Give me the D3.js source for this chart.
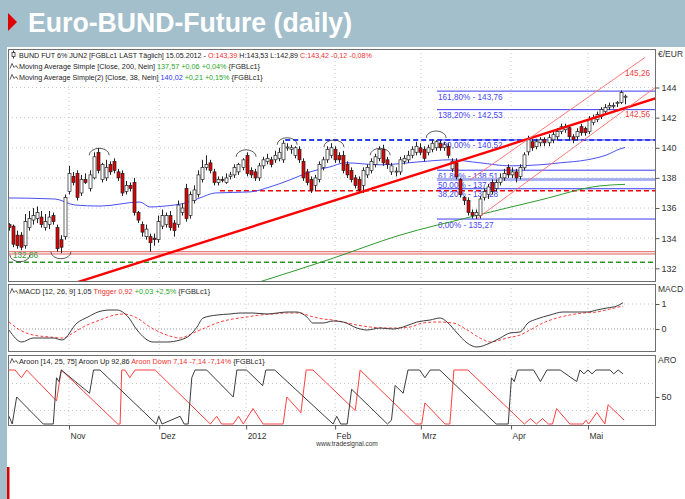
<!DOCTYPE html>
<html>
<head>
<meta charset="utf-8">
<script src="https://cdn.jsdelivr.net/npm/d3@7"></script>
<style>
  body { margin: 0; background: #fff; }
  svg text { font-family: "Liberation Sans", Arial, sans-serif; }
</style>
</head>
<body>
<svg id="chart" width="685" height="499"></svg>
<script>
// ---- data ----
const openP = [134.9,134.8,134.2,134.2,133.5,134.7,135.2,135.3,135.4,134.7,
  134.9,135.5,134.7,133.9,134.1,137.1,138.1,138.3,137.0,137.9,
  137.3,138.0,139.7,137.9,138.0,138.9,139.1,138.4,138.3,137.1,
  137.5,137.7,135.7,134.9,134.1,134.1,134.0,133.9,134.8,134.9,
  135.5,135.0,134.9,135.7,137.3,135.5,136.5,136.9,137.9,138.7,
  139.0,138.4,137.7,137.9,137.7,138.1,138.2,138.4,138.7,139.5,
  138.5,138.4,138.0,138.8,139.1,139.2,139.2,139.3,139.2,140.0,
  139.9,139.5,139.9,139.1,138.4,137.9,137.5,137.9,138.7,139.2,
  139.5,139.9,139.5,139.5,138.9,138.5,138.0,137.9,137.5,138.2,
  138.5,138.9,139.3,139.9,139.2,138.4,138.4,138.4,139.1,139.2,
  139.5,139.7,140.0,139.9,139.7,139.9,140.0,140.3,140.0,140.1,
  138.6,139.0,137.9,136.7,136.5,135.7,135.5,135.5,136.7,136.9,
  137.7,137.3,137.7,138.0,138.7,138.2,138.4,138.1,138.67,139.73,
  140.4,140.07,140.33,140.53,140.33,140.53,140.73,141.07,141.2,141.33,
  140.73,140.73,141.4,141.27,141.07,141.67,141.87,142.07,142.4,142.7,
  142.8,142.93,143.0,143.39];
const highP = [135.0,134.9,134.5,134.4,135.6,135.8,136.0,136.1,135.8,135.6,
  135.8,135.7,134.9,134.2,136.9,138.8,138.4,138.5,138.2,138.3,
  138.5,139.7,140.0,139.0,139.2,139.1,139.3,138.6,138.5,137.8,
  137.7,138.0,135.8,135.1,134.9,134.3,134.3,135.5,135.9,135.7,
  135.8,135.2,136.5,136.3,137.6,137.1,137.5,138.5,139.2,139.5,
  139.2,138.6,138.1,138.1,138.3,138.4,138.9,139.0,139.3,139.7,
  138.7,138.6,139.0,139.4,139.6,139.4,139.8,140.0,140.5,140.3,
  140.2,140.1,140.1,139.3,138.6,138.1,138.2,139.1,139.4,140.1,
  140.3,140.1,139.7,139.8,139.1,138.7,138.2,138.1,138.7,138.9,
  139.3,139.6,140.1,140.2,139.4,139.0,138.7,139.4,139.5,139.8,
  140.1,140.4,140.3,140.1,140.2,140.52,140.5,140.5,140.4,140.3,
  139.3,139.3,138.0,136.8,136.7,135.9,135.9,136.8,137.3,137.6,
  137.9,137.9,138.3,138.6,138.9,138.7,138.6,138.9,139.7,140.8,
  140.6,140.6,140.7,140.7,140.9,141.1,141.3,141.6,141.6,141.5,
  140.9,141.3,141.6,141.4,142.1,142.2,142.4,142.7,142.9,143.0,
  143.0,143.1,143.8,143.53];
const lowP = [134.5,133.4,133.3,133.2,133.3,134.5,134.9,135.0,134.7,134.5,
  134.6,134.9,133.1,133.0,133.9,136.9,137.5,136.5,136.8,137.6,
  137.1,137.9,138.3,137.7,137.8,138.2,138.3,137.8,136.8,136.9,
  137.1,135.5,135.0,134.1,133.9,133.1,133.5,133.7,134.6,134.7,
  134.5,134.1,134.7,135.5,135.1,135.3,136.3,136.7,137.7,138.5,
  138.3,137.5,137.5,137.7,137.6,137.9,138.0,138.2,138.5,138.1,
  138.0,137.8,137.8,138.6,138.9,138.7,139.0,139.1,139.0,139.8,
  139.6,139.3,139.0,137.8,137.5,137.0,137.1,137.7,138.5,139.0,
  139.3,139.0,139.0,138.3,138.0,137.7,137.3,137.0,137.0,138.0,
  138.3,138.7,139.1,138.8,138.6,138.2,138.1,138.2,138.9,139.0,
  139.3,139.5,139.5,139.1,139.5,139.7,139.8,139.8,139.8,139.3,
  138.4,137.9,136.7,136.2,135.5,135.3,135.27,135.3,136.5,136.6,
  136.9,137.1,137.5,137.8,138.0,138.0,137.7,137.9,138.5,139.5,
  139.8,139.9,140.1,140.1,140.1,140.3,140.5,140.9,141.0,140.5,
  140.3,140.5,140.8,140.8,140.9,141.5,141.7,141.9,142.2,142.5,
  142.6,142.7,142.9,142.89];
const closeP = [134.7,133.6,133.5,133.4,135.1,135.3,135.5,135.7,134.9,135.1,
  135.4,135.1,133.3,133.4,136.7,138.3,137.7,136.7,137.9,137.7,
  138.2,139.4,138.5,138.9,138.7,138.4,138.5,138.0,137.0,137.5,
  137.3,135.7,135.2,134.4,134.6,133.7,133.9,135.1,135.5,135.5,
  134.7,134.5,136.2,136.0,135.3,136.9,137.2,138.2,138.7,138.9,
  138.5,137.7,137.9,137.85,138.0,138.2,138.7,138.9,139.2,138.3,
  138.2,138.0,138.8,139.2,139.3,138.9,139.5,139.7,140.3,140.05,
  140.0,140.0,139.2,138.0,137.7,137.2,138.0,138.9,139.2,139.9,
  140.0,139.2,139.2,138.5,138.2,137.9,137.5,137.2,138.5,138.7,
  139.1,139.4,139.9,139.0,138.9,138.8,138.45,139.2,139.3,139.5,
  139.9,140.1,139.7,139.3,140.0,140.3,140.4,140.0,140.2,139.5,
  139.1,138.07,136.9,136.5,135.7,135.5,135.7,136.6,137.1,137.4,
  137.1,137.7,138.0,138.3,138.2,138.4,138.0,138.7,139.53,140.53,
  140.0,140.4,140.53,140.33,140.67,140.87,141.07,141.4,141.4,140.73,
  140.53,141.07,141.0,141.0,141.87,142.0,142.2,142.53,142.67,142.8,
  142.8,143.0,143.67,143.42];

// moving averages, sampled as [day index, value]
const ma38 = [[0,136.67],[11.4,136.6],[16.4,136.2],[22.6,136.13],[32.5,136.4],[35,136.07],
  [38.7,136.13],[43.7,136.33],[47.4,136.67],[51.2,137.0],[59.9,137.07],[64.8,137.4],
  [69.8,137.87],[74.8,138.4],[79.7,138.73],[83.5,139.0],[92.2,138.87],[102.1,139.07],
  [109.5,139.2],[117,139.0],[124.4,138.8],[131.9,138.87],[136.9,139.0],[143.6,139.2],
  [148.5,139.53],[151.8,139.93],[153,140.02]];
const ma200 = [[59.9,130.9],[79.7,132.6],[97.1,134.2],[114.5,135.4],[131.9,136.53],
  [146.8,137.47],[153,137.57]];

// drawing tools: trend lines as [day index, price]
const trendMain = [[16.9,131.07],[160.5,143.27]];
const channelUp = [[114.5,137.87],[158,146.0]];
const channelLow = [[116.2,135.3],[160.5,144.0]];

const fibStart = 106.3;
const fibLevels = [143.76,142.53,140.52,138.51,137.895,137.28,135.27];
const fibLabels = ['161,80% - 143,76','138,20% - 142,53','100,00% - 140,52',
  '61,80% - 138,51','50,00% - 137,90','38,20% - 137,28','0,00% - 135,27'];
const blueDash = {from: 68.6, level: 140.52};
const redDash = {from: 52.4, level: 137.15};
const redPair = [133.1, 132.95];
const greenDash = 132.4;

const arcTops = [[22.4,139.5],[58.9,139.4],[69.1,140.2],[80.7,140.05],[92.2,139.5],[106.1,140.65]];
const arcBottoms = [[2.7,132.9],[12.9,133.1]];

// MACD panel
const macdLine = [[0,-0.04],[3.2,-0.52],[6,-0.36],[11,-0.36],[13.2,-0.44],[16.9,0.24],[19.6,0.48],
  [22.1,0.68],[25.1,0.76],[26.8,0.76],[29.6,0.48],[31.8,-0.04],[35.8,-0.52],[39.2,-0.52],
  [42.5,-0.44],[45,-0.24],[46.7,0.08],[48.2,0.44],[51.7,0.56],[54.9,0.6],[57.4,0.64],
  [60.6,0.64],[64.1,0.6],[66.6,0.64],[69,0.68],[71.5,0.68],[74,0.48],[75.5,0.24],[78,0.24],
  [80.5,0.32],[83,0.28],[86.4,0.04],[88.9,-0.04],[92.2,0.04],[95.4,0],[97.9,0.08],
  [101.3,0.28],[104.6,0.36],[107.1,0.44],[108.8,0.28],[111.3,-0.16],[113.8,-0.56],
  [116.2,-0.72],[119.5,-0.56],[122,-0.36],[124.4,-0.16],[126.9,-0.12],[128.9,0.24],
  [131.1,0.4],[134.4,0.56],[137.6,0.68],[141.1,0.68],[143.6,0.68],[146,0.76],[148.5,0.84],
  [151,0.92],[152.5,1.05]];
const triggerLine = [[0,0.28],[2.7,-0.04],[6,-0.24],[10.2,-0.32],[13.4,-0.36],[15.9,-0.16],
  [18.4,0.08],[22.6,0.36],[26.3,0.56],[28.3,0.6],[31.8,0.44],[35,0.08],[39.2,-0.24],
  [42.5,-0.36],[45.7,-0.16],[49.2,0.08],[52.4,0.28],[55.6,0.4],[59.1,0.48],[62.3,0.56],
  [65.6,0.6],[69,0.64],[72.3,0.64],[74.8,0.52],[78,0.4],[80.5,0.36],[83,0.28],[86.4,0.16],
  [89.7,0.08],[92.9,0.04],[96.4,0.04],[99.6,0.08],[102.8,0.24],[106.3,0.28],[110.3,0.24],
  [113.8,-0.04],[117,-0.36],[119.5,-0.52],[123.7,-0.36],[126.9,-0.24],[129.4,-0.04],
  [132.6,0.24],[136.1,0.44],[139.3,0.56],[142.6,0.64],[146,0.68],[149.3,0.8],[152.5,0.92]];

// Aroon panel, vertices as [day index, value]
const aroonUp = [[0,14.3],[0.8,0],[1.9,50],[8.5,0],[11,0],[11.8,85.7],[12.4,78.6],[13,100],
  [20,57],[21,100],[22.6,100],[36.6,0],[37.2,14.3],[38,0],[42.5,14.3],[43.5,0],[44.5,0],
  [45.4,85.7],[46.2,100],[49.1,100],[55.7,50],[56.6,100],[59,100],[63,71],[63.8,100],
  [66,100],[80.5,0],[81.4,14.3],[82.4,0],[84,0],[85.1,64.3],[94,0],[95,7],[95.9,71.4],
  [97.9,57],[99.1,100],[102,100],[103.3,85.7],[104.6,100],[107,100],[121,0],[124,0],
  [124.8,85.7],[125.5,78.6],[126.3,100],[130.3,100],[132,78.6],[133.6,100],[136.9,100],
  [141,78.6],[141.8,100],[142.8,92.9],[143.8,100],[144.8,92.9],[145.8,100],[149.3,100],
  [150.2,92.9],[151.3,100],[152.5,92.9]];
const aroonDown = [[0,100],[1.5,100],[3.1,85.7],[4.4,100],[11.8,42.9],[13,100],[27,0],
  [27.6,0],[28,100],[28.8,100],[30,85.7],[31.3,100],[36.3,100],[50,0],[51.6,14.3],[52.8,0],
  [55.7,0],[57,14.3],[58.2,0],[60.6,28.6],[63.1,0],[68.1,0],[69,50],[72.5,21],[73.8,100],
  [75.5,100],[86,25],[87.2,100],[101,0],[102.5,0],[103.3,39],[108.3,0],[109.5,0],
  [110.5,100],[114,100],[128,0],[129.5,10],[131,0],[132.5,10],[134,0],[135,0],[136,28.6],
  [139.3,0],[142.6,0],[143.3,7.1],[144,0],[146,21.4],[148,0],[148.8,35.7],[152.8,7.1]];

const priceTicks = [132,134,136,138,140,142,144];
const macdTicks = [0,1];
const aroonTicks = [50];
const aroonGrid = [25,75];
const monthLabels = ['Nov','Dez','2012','Feb','Mrz','Apr','Mai'];
const monthIdx = [14.9,37.3,58.9,81.0,102.3,124.7,143.8];

// ---- layout ----
const PLOT = { left: 8, right: 655 };
const MAIN = { top: 49, bottom: 281 };
const MACD_P = { top: 284, bottom: 351 };
const ARO_P = { top: 355, bottom: 425 };
const HEADER_BG = '#a4bfcc';
const N = closeP.length;

const svg = d3.select('#chart');
const defs = svg.append('defs');

const x = d3.scaleLinear().domain([0, N - 1]).range([9, 625]);
const yPrice = d3.scaleLinear().domain([132, 144]).range([268.3, 87.5]);
const yMacd = d3.scaleLinear().domain([0, 1]).range([329, 304]);
const yAro = d3.scaleLinear().domain([0, 100]).range([424, 370]);

// header
svg.append('rect').attr('x', 0).attr('y', 0).attr('width', 685).attr('height', 47).attr('fill', HEADER_BG);
svg.append('rect').attr('x', 0).attr('y', 0).attr('width', 7).attr('height', 499).attr('fill', HEADER_BG);
svg.append('rect').attr('x', 7).attr('y', 467).attr('width', 2.5).attr('height', 32).attr('fill', '#e00000');
svg.append('path').attr('d', 'M8,13 L17,22 L8,31 Z').attr('fill', '#e00000');
svg.append('text')
  .attr('x', 28).attr('y', 32)
  .attr('fill', '#fff').attr('font-size', 27).attr('font-weight', 'bold')
  .attr('textLength', 324).attr('lengthAdjust', 'spacingAndGlyphs')
  .text('Euro-BUND-Future (daily)');

function makeClip (id, panel) {
  defs.append('clipPath').attr('id', id)
    .append('rect')
    .attr('x', PLOT.left).attr('y', panel.top)
    .attr('width', PLOT.right - PLOT.left).attr('height', panel.bottom - panel.top);
}
makeClip('clipMain', MAIN);
makeClip('clipMacd', MACD_P);
makeClip('clipAro', ARO_P);

// panel grids
function grid (panel, yScale, levels) {
  const g = svg.append('g').attr('stroke', '#c8c8c8').attr('stroke-dasharray', '1,3').attr('stroke-width', 1);
  levels.forEach(v => g.append('line')
    .attr('x1', PLOT.left).attr('x2', PLOT.right)
    .attr('y1', yScale(v)).attr('y2', yScale(v)));
  monthIdx.forEach(m => g.append('line')
    .attr('x1', x(m)).attr('x2', x(m))
    .attr('y1', panel.top).attr('y2', panel.bottom));
}
grid(MAIN, yPrice, priceTicks);
grid(MACD_P, yMacd, [1]);
grid(ARO_P, yAro, aroonGrid);
svg.append('line').attr('x1', PLOT.left).attr('x2', PLOT.right)
  .attr('y1', yMacd(0)).attr('y2', yMacd(0))
  .attr('stroke', '#999').attr('stroke-dasharray', '1,2');

// ---- main panel ----
const main = svg.append('g').attr('clip-path', 'url(#clipMain)');

// horizontal support lines
redPair.forEach(v => main.append('line')
  .attr('x1', PLOT.left).attr('x2', PLOT.right)
  .attr('y1', yPrice(v)).attr('y2', yPrice(v))
  .attr('stroke', '#e05a5a').attr('stroke-width', 1));
main.append('line')
  .attr('x1', PLOT.left).attr('x2', PLOT.right)
  .attr('y1', yPrice(greenDash)).attr('y2', yPrice(greenDash))
  .attr('stroke', '#2a962a').attr('stroke-width', 1.5).attr('stroke-dasharray', '5,3');
main.append('line')
  .attr('x1', x(redDash.from)).attr('x2', PLOT.right)
  .attr('y1', yPrice(redDash.level)).attr('y2', yPrice(redDash.level))
  .attr('stroke', '#f00').attr('stroke-width', 1.5).attr('stroke-dasharray', '5,3');
main.append('line')
  .attr('x1', x(blueDash.from)).attr('x2', PLOT.right)
  .attr('y1', yPrice(blueDash.level)).attr('y2', yPrice(blueDash.level))
  .attr('stroke', '#2b3cf0').attr('stroke-width', 2).attr('stroke-dasharray', '5,3');

// fibonacci levels
fibLevels.forEach((v, k) => {
  main.append('line')
    .attr('x1', x(fibStart)).attr('x2', PLOT.right)
    .attr('y1', yPrice(v)).attr('y2', yPrice(v))
    .attr('stroke', k === 4 ? '#a9b1f2' : '#3a3af5')
    .attr('stroke-width', k === 4 ? 3 : 1);
  main.append('text')
    .attr('x', x(fibStart) + 1).attr('y', yPrice(v) + 8.5)
    .attr('font-size', 8.2).attr('fill', '#4848f0')
    .text(fibLabels[k]);
});

// moving averages
const lineP = d3.line().x(d => x(d[0])).y(d => yPrice(d[1])).curve(d3.curveMonotoneX);
main.append('path').datum(ma200).attr('d', lineP)
  .attr('fill', 'none').attr('stroke', '#2f9a2f').attr('stroke-width', 1);
main.append('path').datum(ma38).attr('d', lineP)
  .attr('fill', 'none').attr('stroke', '#4a50f0').attr('stroke-width', 1);

// candles
const candles = d3.range(N).map(i => ({ i, o: openP[i], h: highP[i], l: lowP[i], c: closeP[i] }));
const cg = main.append('g');
cg.selectAll('line.wick').data(candles).join('line')
  .attr('class', 'wick')
  .attr('x1', d => Math.round(x(d.i)) + 0.5).attr('x2', d => Math.round(x(d.i)) + 0.5)
  .attr('y1', d => yPrice(d.h)).attr('y2', d => yPrice(d.l))
  .attr('stroke', '#222').attr('stroke-width', 1);
cg.selectAll('rect.body').data(candles).join('rect')
  .attr('class', 'body')
  .attr('x', d => Math.round(x(d.i)) - 1)
  .attr('width', 3)
  .attr('y', d => yPrice(Math.max(d.o, d.c)))
  .attr('height', d => Math.max(1, Math.abs(yPrice(d.o) - yPrice(d.c))))
  .attr('fill', d => d.c >= d.o ? '#fff' : '#e00000')
  .attr('stroke', '#222').attr('stroke-width', 0.7);

// trend lines
const lineT = d3.line().x(d => x(d[0])).y(d => yPrice(d[1]));
main.append('path').datum(trendMain).attr('d', lineT)
  .attr('stroke', '#f00').attr('stroke-width', 2.4).attr('fill', 'none');
[channelUp, channelLow].forEach(c => main.append('path').datum(c).attr('d', lineT)
  .attr('stroke', '#ff6a6a').attr('stroke-width', 0.9).attr('fill', 'none'));
main.append('text').attr('x', x(N - 1)).attr('y', yPrice(145.26) + 7.5)
  .attr('font-size', 8.2).attr('fill', '#f04040').text('145,26');
main.append('text').attr('x', x(N - 1)).attr('y', yPrice(142.56) + 7.5)
  .attr('font-size', 8.2).attr('fill', '#f04040').text('142,56');
main.append('text').attr('x', 13).attr('y', yPrice(132.86) + 3)
  .attr('font-size', 8.2).attr('fill', '#3a9a3a').text('132,86');

// arc markers over highs and under lows
const ARC_W = 20, ARC_H = 7;
arcTops.forEach(([i, v]) => main.append('path')
  .attr('d', `M${x(i) - ARC_W / 2},${yPrice(v)} A${ARC_W / 2},${ARC_H} 0 0 1 ${x(i) + ARC_W / 2},${yPrice(v)}`)
  .attr('fill', 'none').attr('stroke', '#333').attr('stroke-width', 0.8));
arcBottoms.forEach(([i, v]) => main.append('path')
  .attr('d', `M${x(i) - ARC_W / 2},${yPrice(v)} A${ARC_W / 2},${ARC_H} 0 0 0 ${x(i) + ARC_W / 2},${yPrice(v)}`)
  .attr('fill', 'none').attr('stroke', '#333').attr('stroke-width', 0.8));

// ---- MACD panel ----
const macdG = svg.append('g').attr('clip-path', 'url(#clipMacd)');
const lineM = d3.line().x(d => x(d[0])).y(d => yMacd(d[1])).curve(d3.curveMonotoneX);
macdG.append('path').datum(triggerLine).attr('d', lineM)
  .attr('fill', 'none').attr('stroke', '#ff4040').attr('stroke-width', 1).attr('stroke-dasharray', '3,2');
macdG.append('path').datum(macdLine).attr('d', lineM)
  .attr('fill', 'none').attr('stroke', '#3c3c3c').attr('stroke-width', 1);

// ---- Aroon panel ----
const aroG = svg.append('g').attr('clip-path', 'url(#clipAro)');
const lineA = d3.line().x(d => x(d[0])).y(d => yAro(d[1]));
aroG.append('path').datum(aroonDown).attr('d', lineA)
  .attr('fill', 'none').attr('stroke', '#ff4040').attr('stroke-width', 1);
aroG.append('path').datum(aroonUp).attr('d', lineA)
  .attr('fill', 'none').attr('stroke', '#3c3c3c').attr('stroke-width', 1);

// ---- frames and axes ----
[MAIN, MACD_P, ARO_P].forEach(p => svg.append('rect')
  .attr('x', PLOT.left + 0.5).attr('y', p.top + 0.5)
  .attr('width', PLOT.right - PLOT.left).attr('height', p.bottom - p.top)
  .attr('fill', 'none').attr('stroke', '#6e6e6e').attr('stroke-width', 1));

function rightAxis (scale, ticks) {
  const g = svg.append('g')
    .attr('transform', `translate(${PLOT.right + 0.5},0)`)
    .call(d3.axisRight(scale).tickValues(ticks).tickSize(4).tickPadding(2).tickFormat(d => d));
  g.select('.domain').remove();
  g.selectAll('text').attr('font-size', 9).attr('fill', '#333').attr('font-family', '"Liberation Sans", Arial, sans-serif');
  g.selectAll('line').attr('stroke', '#555');
}
rightAxis(yPrice, priceTicks);
rightAxis(yMacd, macdTicks);
rightAxis(yAro, aroonTicks);

const unitLabels = [['€/EUR', 57], ['MACD', 292], ['ARO', 363]];
unitLabels.forEach(([t, yy]) => svg.append('text')
  .attr('x', 658).attr('y', yy).attr('font-size', 8.5).attr('fill', '#333').text(t));

const xAxis = svg.append('g')
  .attr('transform', `translate(0,${ARO_P.bottom + 0.5})`)
  .call(d3.axisBottom(x).tickValues(monthIdx).tickSize(4).tickPadding(3)
    .tickFormat((d, k) => monthLabels[k]));
xAxis.select('.domain').remove();
xAxis.selectAll('line').attr('stroke', '#555');
xAxis.selectAll('text').attr('text-anchor', 'start').attr('dx', 1)
  .attr('font-size', 8.5).attr('fill', '#333')
  .attr('font-family', '"Liberation Sans", Arial, sans-serif');

svg.append('text').attr('x', 347).attr('y', 446).attr('text-anchor', 'middle')
  .attr('font-size', 6.5).attr('fill', '#333').text('www.tradesignal.com');

// ---- legends ----
function waveIcon (yy) {
  svg.append('path')
    .attr('d', `M10,${yy} L12,${yy - 5} L14,${yy - 1} L16,${yy - 3} L18,${yy}`)
    .attr('fill', 'none').attr('stroke', '#333').attr('stroke-width', 0.8);
}
// shrink the font until the line is as wide as in the reference
function legend (yy, width, parts) {
  const base = 7.8;
  const t = svg.append('text').attr('x', 19).attr('y', yy).attr('font-size', base);
  parts.forEach(([s, c]) => t.append('tspan').attr('fill', c).text(s));
  const w = t.node().getComputedTextLength();
  t.attr('font-size', Math.min(base, base * width / w).toFixed(2));
}
// small candle icon for the price line
svg.append('line').attr('x1', 13.5).attr('x2', 13.5).attr('y1', 50.5).attr('y2', 58.5).attr('stroke', '#333');
svg.append('rect').attr('x', 12).attr('y', 52.5).attr('width', 3).attr('height', 4)
  .attr('fill', '#fff').attr('stroke', '#333').attr('stroke-width', 0.8);

const BLK = '#222', RED = '#f03030', GRN = '#1fa51f', BLU = '#3030ff';
legend(57.5, 353, [['BUND FUT 6% JUN2 [FGBLc1 LAST Täglich] 15.05.2012 - ', BLK], ['O:143,39 ', RED],
  ['H:143,53 L:142,89 ', BLK], ['C:143,42 -0,12 -0,08%', RED]]);
waveIcon(68.5);
legend(68.5, 241, [['Moving Average Simple [Close, 200, Nein] ', BLK], ['137,57 +0,06 +0,04% ', GRN], ['{FGBLc1}', BLK]]);
waveIcon(79.5);
legend(79.5, 244, [['Moving Average Simple(2) [Close, 38, Nein] ', BLK], ['140,02 ', BLU], ['+0,21 +0,15% ', GRN], ['{FGBLc1}', BLK]]);
waveIcon(293.5);
legend(293.5, 191, [['MACD [12, 26, 9] 1,05 ', BLK], ['Trigger 0,92 ', RED], ['+0,03 +2,5% ', GRN], ['{FGBLc1}', BLK]]);
waveIcon(363.5);
legend(363.5, 246, [['Aroon [14, 25, 75] Aroon Up 92,86 ', BLK], ['Aroon Down 7,14 -7,14 -7,14% ', RED], ['{FGBLc1}', BLK]]);
</script>
</body>
</html>
